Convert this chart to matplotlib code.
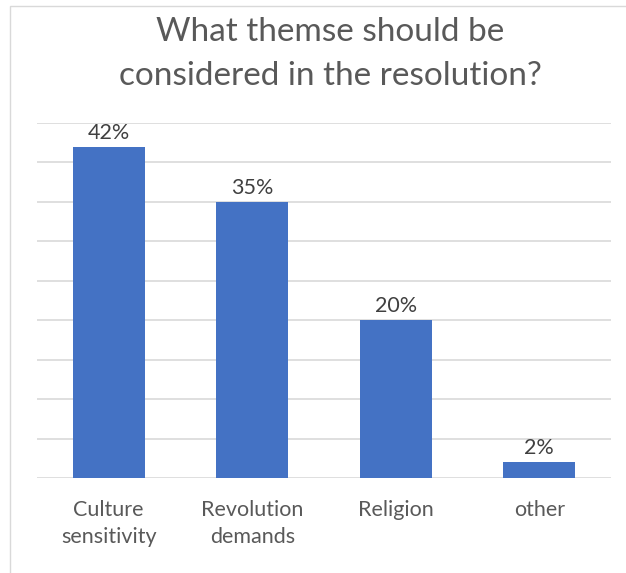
import numpy as np
import matplotlib.pyplot as plt
from matplotlib.patches import Rectangle

categories = ['Culture\nsensitivity', 'Revolution\ndemands', 'Religion', 'other']
values = [42, 35, 20, 2]
labels = ['42%', '35%', '20%', '2%']

plt.rcParams['font.family'] = ['Lato', 'DejaVu Sans']

W, H = 626, 573
fig = plt.figure(figsize=(W / 100, H / 100), dpi=100)

# light chart border (left and top visible)
fig.patches.append(Rectangle((10 / W, -0.1), 1.2, 1.1 - 6 / H,
                             transform=fig.transFigure, fill=False,
                             edgecolor='#D9D9D9', linewidth=1.0))

ax = fig.add_axes([37 / W, 95 / H, 574 / W, 355 / H])
ind = np.arange(len(categories))
rects = ax.bar(ind, values, 0.5, color='#4472C4', zorder=3)

ax.set_xlim(-0.5, len(categories) - 0.5)
ax.set_ylim(0, 45)
ax.set_yticks(np.arange(0, 46, 5))
ax.yaxis.grid(True, color='#D9D9D9', linewidth=1.2, zorder=0)
ax.tick_params(axis='y', left=False, labelleft=False)
ax.tick_params(axis='x', length=0, pad=16, labelsize=15.5, labelcolor='#595959')
ax.set_xticks(ind)
ax.set_xticklabels(categories, linespacing=1.45)
for s in ax.spines.values():
    s.set_visible(False)

for rect, lab in zip(rects, labels):
    h = rect.get_height()
    ax.annotate(lab, (rect.get_x() + rect.get_width() / 2, h),
                xytext=(0, 3), textcoords='offset points',
                ha='center', va='bottom', fontsize=15.5, color='#404040')

fig.text(330 / W, 1 - 54 / H, 'What themse should be\nconsidered in the resolution?',
         ha='center', va='center', fontsize=24, color='#595959', linespacing=1.6)

plt.savefig('out.png', dpi=100)
plt.close(fig)
